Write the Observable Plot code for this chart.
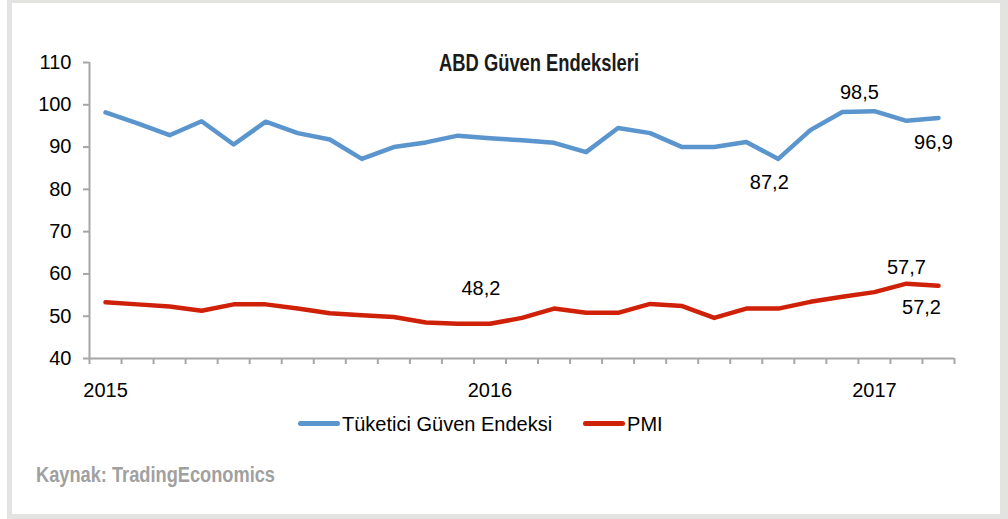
<!DOCTYPE html>
<html><head><meta charset="utf-8">
<script src="https://cdn.jsdelivr.net/npm/d3@7"></script>
<script src="https://cdn.jsdelivr.net/npm/@observablehq/plot@0.6"></script>
<style>
body{margin:0;background:#fff;}
#wrap{position:relative;width:1008px;height:519px;overflow:hidden;font-family:"Liberation Sans",Arial,sans-serif;}
#frame{position:absolute;left:7px;top:0;width:988px;height:511px;border-style:solid;border-color:#e3e3e1;border-width:3px 8px 5px 5px;}
#chart{position:absolute;left:0;top:0;}
.narrow{position:absolute;display:inline-block;white-space:nowrap;font-family:"Liberation Sans",Arial,sans-serif;font-weight:bold;font-size:22px;line-height:22px;transform-origin:0 0;}
#title{top:51px;font-size:24px;line-height:24px;color:#1a1a1a;}
#caption{top:464px;color:#a0a0a0;}
#legend{position:absolute;top:414px;left:298px;height:20px;font-size:20px;line-height:20px;color:#000;white-space:nowrap;}
#legend .item{display:inline-block;vertical-align:top;}
#legend .sw{display:inline-block;width:42px;height:5px;border-radius:3px;vertical-align:top;margin-top:7px;margin-right:2px;}
</style>
</head><body>
<div id="wrap">
  <div id="frame"></div>
  <div id="chart"></div>
  <span id="title" class="narrow"></span>
  <div id="legend"></div>
  <span id="caption" class="narrow"></span>
</div>
<script>
const months = ["2015-01","2015-02","2015-03","2015-04","2015-05","2015-06","2015-07","2015-08","2015-09","2015-10","2015-11","2015-12",
                "2016-01","2016-02","2016-03","2016-04","2016-05","2016-06","2016-07","2016-08","2016-09","2016-10","2016-11","2016-12",
                "2017-01","2017-02","2017-03"];
const tuketici = [98.2, 95.6, 92.8, 96.1, 90.6, 96.0, 93.3, 91.8, 87.2, 90.0, 91.1, 92.7,
                  92.1, 91.6, 91.0, 88.8, 94.5, 93.3, 90.0, 90.0, 91.2, 87.2, 94.0, 98.3,
                  98.5, 96.2, 96.9];
const pmi = [53.3, 52.8, 52.3, 51.3, 52.8, 52.8, 51.8, 50.7, 50.2, 49.8, 48.5, 48.2,
             48.2, 49.6, 51.8, 50.8, 50.8, 52.9, 52.4, 49.6, 51.8, 51.8, 53.4, 54.6,
             55.7, 57.7, 57.2];
const yTicks = [40, 50, 60, 70, 80, 90, 100, 110];
const yearLabels = ["2015", "2016", "2017"];
const seriesNames = ["Tüketici Güven Endeksi", "PMI"];
const tukLabelMonths = ["2016-10", "2017-01", "2017-03"];
const pmiLabelMonths = ["2016-01", "2017-02", "2017-03"];
const titleText = "ABD Güven Endeksleri";
const captionText = "Kaynak: TradingEconomics";

const colors = ["#5b95cd", "#cf2008"];
const n = months.length;
const data = months.map((m, i) => ({i, m, tuk: tuketici[i], pmi: pmi[i]}));
const yearIdx = yearLabels.map(y => months.indexOf(y + "-01"));
const fmt = v => d3.format(".1f")(v).replace(".", ",");

// label offsets (style only)
const tukOff = {"2016-10": [-9, 24], "2017-01": [-15, -19], "2017-03": [-5, 25]};
const pmiOff = {"2016-01": [-9, -35], "2017-02": [0, -16], "2017-03": [-17, 22]};

const labelMarks = [
  ...tukLabelMonths.map(m => Plot.text(data.filter(d => d.m === m), {
    x: "i", y: "tuk", text: d => fmt(d.tuk), dx: tukOff[m][0], dy: tukOff[m][1], fill: "#000"})),
  ...pmiLabelMonths.map(m => Plot.text(data.filter(d => d.m === m), {
    x: "i", y: "pmi", text: d => fmt(d.pmi), dx: pmiOff[m][0], dy: pmiOff[m][1], fill: "#000"}))
];

const axisColor = "#a6a6a6";
const chart = Plot.plot({
  width: 1008, height: 400,
  marginLeft: 89, marginRight: 54, marginTop: 62, marginBottom: 42,
  style: {fontFamily: "'Liberation Sans', Arial, sans-serif", fontSize: "20px", background: "transparent", color: "#000", overflow: "visible"},
  x: {type: "linear", domain: [-0.5, n - 0.5]},
  y: {domain: [40, 110]},
  marks: [
    Plot.axisY({ticks: yTicks, tickSize: 6, tickPadding: 12, stroke: axisColor, strokeWidth: 2, label: null, tickFormat: d => String(d)}),
    Plot.axisX({ticks: d3.range(-0.5, n, 1), tickSize: 6, tickFormat: () => "", stroke: axisColor, strokeWidth: 2, label: null}),
    Plot.axisX({ticks: yearIdx, tickSize: 0, tickPadding: 24, tickFormat: i => yearLabels[yearIdx.indexOf(i)], label: null}),
    Plot.ruleY([40], {stroke: axisColor, strokeWidth: 2}),
    Plot.ruleX([-0.5], {stroke: axisColor, strokeWidth: 2}),
    Plot.line(data, {x: "i", y: "tuk", stroke: colors[0], strokeWidth: 4.5}),
    Plot.line(data, {x: "i", y: "pmi", stroke: colors[1], strokeWidth: 4.5}),
    ...labelMarks
  ]
});
document.getElementById("chart").appendChild(chart);

function fitNarrow(id, text, left, targetWidth) {
  const el = document.getElementById(id);
  el.textContent = text;
  const w = el.getBoundingClientRect().width;
  const s = targetWidth / w;
  el.style.left = left + "px";
  el.style.transform = `scaleX(${s})`;
}
fitNarrow("title", titleText, 439, 200);
fitNarrow("caption", captionText, 36, 239);

const leg = document.getElementById("legend");
seriesNames.forEach((name, k) => {
  const it = document.createElement("span");
  it.className = "item";
  if (k > 0) it.style.marginLeft = "31px";
  const sw = document.createElement("span");
  sw.className = "sw";
  sw.style.background = colors[k];
  it.appendChild(sw);
  it.appendChild(document.createTextNode(name));
  leg.appendChild(it);
});
</script>
</body></html>
